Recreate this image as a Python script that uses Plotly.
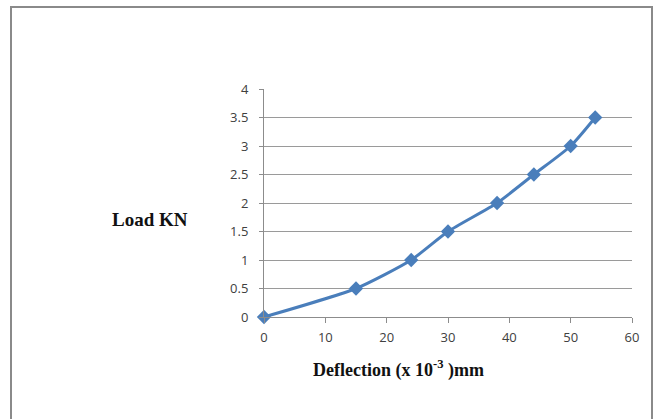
import plotly.graph_objects as go

deflection = [0, 15, 24, 30, 38, 44, 50, 54]
load = [0, 0.5, 1, 1.5, 2, 2.5, 3, 3.5]
x_title = "Deflection (x 10<sup>-3</sup> )mm"
y_title = "Load KN"

W, H = 655, 419
L, R, T, B = 264, 632, 89, 317

def px(p):
    return (p - L) / (R - L)

def py(p):
    return (B - p) / (B - T)

fig = go.Figure()
fig.add_trace(go.Scatter(
    x=deflection, y=load, mode="lines+markers",
    line=dict(color="#4a7ebb", width=3, shape="spline", smoothing=0.6),
    marker=dict(symbol="diamond", size=11, color="#4a7ebb"),
    showlegend=False, cliponaxis=False,
))

tickfont = dict(family="Open Sans, Liberation Sans, sans-serif", size=13, color="#404040")
fig.update_layout(
    width=W, height=H,
    margin=dict(l=L, r=W - R, t=T, b=H - B),
    paper_bgcolor="white", plot_bgcolor="white",
    xaxis=dict(range=[0, 60], dtick=10, showgrid=False, zeroline=False,
               showline=True, linecolor="#8c8c8c", linewidth=1,
               ticks="outside", ticklen=5, tickcolor="#8c8c8c",
               tickfont=tickfont, ticklabelstandoff=3),
    yaxis=dict(range=[0, 4], dtick=0.5, showgrid=True, gridcolor="#9a9a9a", gridwidth=1,
               zeroline=False, showline=True, linecolor="#8c8c8c", linewidth=1,
               ticks="outside", ticklen=4, tickcolor="#8c8c8c",
               tickfont=tickfont, ticklabelstandoff=8),
    shapes=[dict(type="rect", xref="paper", yref="paper",
                 x0=px(11), x1=px(652), y0=py(430), y1=py(7),
                 line=dict(color="#8a8a8a", width=2), layer="below")],
    annotations=[
        dict(text="<b>" + y_title + "</b>", xref="paper", yref="paper", x=px(150), y=py(219),
             showarrow=False, xanchor="center", yanchor="middle",
             font=dict(family="Liberation Serif, Times New Roman, serif", size=19, color="#111111")),
        dict(text="<b>" + x_title + "</b>", xref="paper", yref="paper", x=px(398), y=py(369),
             showarrow=False, xanchor="center", yanchor="middle",
             font=dict(family="Liberation Serif, Times New Roman, serif", size=18, color="#111111")),
    ],
)
fig.write_html("out.html")
